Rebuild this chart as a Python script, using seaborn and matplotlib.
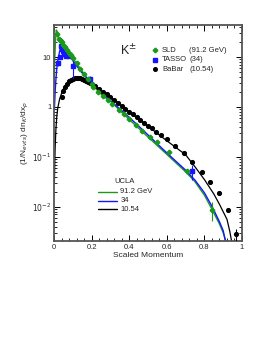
import numpy as np
import pandas as pd
import matplotlib
matplotlib.use('Agg')
import matplotlib.pyplot as plt
import seaborn as sns
from matplotlib.ticker import FixedLocator, MultipleLocator, LogLocator, NullFormatter

# SLD data (91.2 GeV)
sld_x = [0.017, 0.025, 0.03, 0.035, 0.04, 0.05, 0.06, 0.07, 0.08, 0.09, 0.10, 0.12, 0.14,
         0.16, 0.18, 0.20, 0.21, 0.235, 0.26, 0.285, 0.31, 0.345, 0.37, 0.40, 0.435, 0.47,
         0.51, 0.55, 0.61, 0.71, 0.84]
sld_y = [29.0, 23.5, 22.0, 21.0, 19.8, 17.6, 15.6, 13.8, 12.2, 10.8, 9.5, 7.5, 5.9,
         4.6, 3.6, 2.85, 2.5, 2.03, 1.67, 1.38, 1.13, 0.865, 0.71, 0.565, 0.43, 0.33,
         0.245, 0.2, 0.126, 0.051, 0.0087]
sld_err = [4.0, 1.2, 1.0, 0.9, 0.8, 0.6, 0.5, 0.4, 0.3, 0.3, 0.3, 0.2, 0.15,
           0.12, 0.1, 0.08, 0.07, 0.05, 0.04, 0.03, 0.03, 0.02, 0.02, 0.015, 0.012, 0.01,
           0.008, 0.007, 0.005, 0.004, 0.0035]

# TASSO data (34 GeV)
tasso_x = [0.022, 0.03, 0.035, 0.04, 0.045, 0.05, 0.055, 0.065, 0.08, 0.10, 0.19, 0.732]
tasso_y = [7.5, 10.0, 16.5, 15.5, 14.5, 13.0, 11.5, 10.5, 10.3, 6.5, 3.7, 0.052]
tasso_err = [0.8, 1.0, 1.2, 1.2, 1.0, 1.0, 0.9, 0.9, 0.9, 2.7, 0.5, 0.018]

# BaBar data (10.54 GeV)
babar_x = [0.04, 0.05, 0.06, 0.07, 0.08, 0.09, 0.10, 0.11, 0.12, 0.13, 0.14, 0.15, 0.16,
           0.17, 0.18, 0.19, 0.20, 0.22, 0.24, 0.26, 0.28, 0.30, 0.32, 0.34, 0.36, 0.38,
           0.40, 0.42, 0.44, 0.46, 0.48, 0.50, 0.52, 0.545, 0.57, 0.60, 0.645, 0.69,
           0.735, 0.785, 0.83, 0.878, 0.923, 0.967]
babar_y = [1.6, 2.1, 2.55, 2.95, 3.25, 3.5, 3.68, 3.8, 3.85, 3.85, 3.78, 3.65, 3.5,
           3.35, 3.2, 3.07, 2.93, 2.62, 2.31, 2.02, 1.78, 1.56, 1.37, 1.2, 1.05, 0.92,
           0.81, 0.71, 0.62, 0.545, 0.48, 0.42, 0.37, 0.315, 0.27, 0.225, 0.166, 0.119,
           0.079, 0.05, 0.0316, 0.0185, 0.0085, 0.0028]
babar_err = [0.05, 0.06, 0.07, 0.08, 0.08, 0.08, 0.08, 0.08, 0.08, 0.08, 0.08, 0.08, 0.07,
             0.07, 0.07, 0.06, 0.06, 0.05, 0.05, 0.04, 0.04, 0.03, 0.03, 0.03, 0.02, 0.02,
             0.02, 0.02, 0.015, 0.013, 0.012, 0.01, 0.009, 0.008, 0.007, 0.006, 0.005, 0.004,
             0.003, 0.002, 0.0015, 0.001, 0.0008, 0.0008]

# UCLA curves
ucla_g_x = [0.001, 0.004, 0.008, 0.012, 0.016, 0.02, 0.03, 0.05, 0.08, 0.12, 0.16, 0.2, 0.26,
            0.3, 0.4, 0.5, 0.6, 0.7, 0.75, 0.8, 0.84, 0.88, 0.9, 0.915]
ucla_g_y = [3.0, 9.0, 22.0, 35.0, 33.0, 27.0, 22.5, 17.6, 12.2, 7.5, 4.6, 2.82, 1.66,
            1.3, 0.56, 0.25, 0.112, 0.05, 0.0316, 0.017, 0.0089, 0.0045, 0.003, 0.002]
ucla_b_x = [0.002, 0.006, 0.01, 0.015, 0.02, 0.03, 0.035, 0.045, 0.06, 0.08, 0.1, 0.12,
            0.15, 0.2, 0.3, 0.4, 0.5, 0.6, 0.7, 0.75, 0.8, 0.84, 0.88, 0.9, 0.912]
ucla_b_y = [0.9, 2.0, 3.5, 6.0, 8.5, 13.0, 15.0, 15.5, 13.5, 11.0, 8.5, 6.7,
            4.8, 2.95, 1.35, 0.62, 0.275, 0.12, 0.054, 0.034, 0.019, 0.0102, 0.005, 0.0033, 0.002]
ucla_k_x = [0.002, 0.004, 0.006, 0.01, 0.015, 0.02, 0.03, 0.04, 0.05, 0.06, 0.08, 0.1,
            0.12, 0.14, 0.16, 0.18, 0.2, 0.3, 0.4, 0.5, 0.6, 0.7, 0.75, 0.8, 0.85, 0.88,
            0.9, 0.92, 0.935, 0.945]
ucla_k_y = [0.03, 0.07, 0.15, 0.35, 0.65, 0.95, 1.45, 1.85, 2.3, 2.7, 3.3, 3.7,
            3.85, 3.8, 3.55, 3.25, 2.95, 1.55, 0.8, 0.41, 0.21, 0.11, 0.063, 0.035, 0.018, 0.0112,
            0.0079, 0.0056, 0.0032, 0.002]

green = '#1a9a1a'
blue = '#1414ff'

sns.set_theme(style='ticks')
plt.rcParams['font.family'] = ['Liberation Sans', 'DejaVu Sans']

fig = plt.figure(figsize=(2.7, 3.49), dpi=100)
ax = fig.add_axes([54 / 270, 1 - 241 / 349, 188 / 270, 216 / 349])

# UCLA model curves
sns.lineplot(x=ucla_g_x, y=ucla_g_y, ax=ax, color=green, lw=1.0, sort=False, estimator=None)
sns.lineplot(x=ucla_b_x, y=ucla_b_y, ax=ax, color=blue, lw=1.0, sort=False, estimator=None)
sns.lineplot(x=ucla_k_x, y=ucla_k_y, ax=ax, color='black', lw=0.9, sort=False, estimator=None)

# data with error bars
ax.errorbar(babar_x, babar_y, yerr=babar_err, fmt='o', color='black', ms=2.7, elinewidth=0.8, capsize=0, zorder=4)
ax.errorbar(tasso_x, tasso_y, yerr=tasso_err, fmt='s', color=blue, ms=2.4, elinewidth=0.8, capsize=0, zorder=5)
ax.errorbar(sld_x, sld_y, yerr=sld_err, fmt='P', color=green, ms=3.0, elinewidth=0.8, capsize=0, zorder=6)

ax.set_yscale('log')
ax.set_xlim(0, 1)
ax.set_ylim(0.00205, 44)

ax.xaxis.set_major_locator(FixedLocator([0, 0.2, 0.4, 0.6, 0.8, 1.0]))
ax.set_xticklabels(['0', '0.2', '0.4', '0.6', '0.8', '1'])
ax.xaxis.set_minor_locator(MultipleLocator(0.04))
ax.yaxis.set_major_locator(FixedLocator([0.01, 0.1, 1, 10]))
ax.set_yticklabels([r'$10^{-2}$', r'$10^{-1}$', '1', '10'])
ax.yaxis.set_minor_locator(LogLocator(base=10, subs=np.arange(2, 10)))
ax.yaxis.set_minor_formatter(NullFormatter())
ax.tick_params(which='both', direction='in', top=True, right=True, labelsize=5.5, pad=2, color='black')
ax.tick_params(which='major', length=4, width=0.7)
ax.tick_params(which='minor', length=2, width=0.6)
for s in ax.spines.values():
    s.set_linewidth(1.3)
    s.set_color('#555555')

ax.set_xlabel('Scaled Momentum', fontsize=6, labelpad=1)
ax.set_ylabel(r'(1/N$_{evts}$) dn$_K$/dx$_p$', fontsize=6, labelpad=1)

ax.text(0.35, 0.86, r'K$^{\pm}$', transform=ax.transAxes, fontsize=9)

# data legend
ax.plot([0.535], [0.882], 'P', color=green, ms=3, transform=ax.transAxes)
ax.plot([0.535], [0.839], 's', color=blue, ms=2.3, transform=ax.transAxes)
ax.plot([0.535], [0.796], 'o', color='black', ms=2.6, transform=ax.transAxes)
for yy, a, b in [(0.882, 'SLD', '(91.2 GeV)'), (0.839, 'TASSO', '(34)'), (0.796, 'BaBar', '(10.54)')]:
    ax.text(0.575, yy, a, transform=ax.transAxes, fontsize=5.5, va='center')
    ax.text(0.72, yy, b, transform=ax.transAxes, fontsize=5.5, va='center')

# UCLA legend
ax.text(0.32, 0.275, 'UCLA', transform=ax.transAxes, fontsize=5.5, va='center')
for yy, c, lab in [(0.228, green, '91.2 GeV'), (0.186, blue, '34'), (0.147, 'black', '10.54')]:
    ax.plot([0.232, 0.337], [yy, yy], color=c, lw=1.0, transform=ax.transAxes)
    ax.text(0.352, yy, lab, transform=ax.transAxes, fontsize=5.5, va='center')

fig.savefig('out.png', dpi=100)
